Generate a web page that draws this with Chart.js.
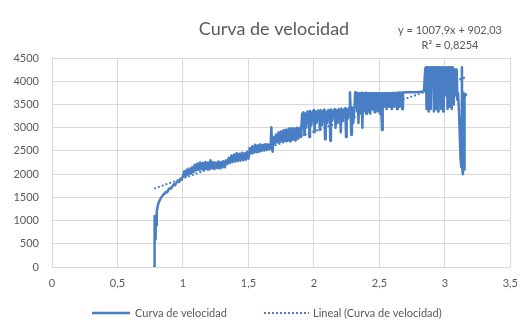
<!DOCTYPE html>
<html lang="es">
<head>
    <meta charset="UTF-8">
    <title>Curva de velocidad</title>
    <style>
        html, body { margin: 0; padding: 0; background: #ffffff; }
        #wrap { width: 528px; height: 323px; position: relative; }
    </style>
</head>
<body>
    <div id="wrap"><canvas id="velChart"></canvas></div>

    <script src="https://cdn.jsdelivr.net/npm/chart.js@4.4.3/dist/chart.umd.min.js"></script>
    <script>
        // Datos (x = tiempo, y = velocidad)
        const tiempo = [
            // arranque
            0.78, 0.782, 0.785, 0.788, 0.79, 0.793, 0.797, 0.80, 0.81, 0.82,
            0.83, 0.84, 0.85, 0.86, 0.87, 0.88, 0.89, 0.90, 0.91, 0.92,
            0.93, 0.94, 0.95, 0.96, 0.97, 0.98, 0.99,
            // 1.00 - 1.33
            1.00, 1.01, 1.02, 1.03, 1.04, 1.05, 1.06, 1.07, 1.08, 1.09,
            1.10, 1.11, 1.12, 1.13, 1.14, 1.15, 1.16, 1.17, 1.18, 1.19,
            1.20, 1.21, 1.22, 1.23, 1.24, 1.25, 1.26, 1.27, 1.28, 1.29,
            1.30, 1.31, 1.32, 1.33,
            // 1.34 - 1.50
            1.34, 1.35, 1.36, 1.37, 1.38, 1.39, 1.40, 1.41, 1.42, 1.43,
            1.44, 1.45, 1.46, 1.47, 1.48, 1.49, 1.50,
            // 1.51 - 1.685
            1.51, 1.52, 1.53, 1.54, 1.55, 1.56, 1.57, 1.58, 1.59, 1.60,
            1.61, 1.62, 1.63, 1.64, 1.65, 1.66, 1.67, 1.675, 1.68, 1.685,
            // 1.69 - 1.90
            1.69, 1.70, 1.71, 1.72, 1.73, 1.74, 1.75, 1.76, 1.77, 1.78,
            1.79, 1.80, 1.81, 1.82, 1.83, 1.84, 1.85, 1.86, 1.87, 1.88,
            1.89, 1.90,
            // 1.91 - 2.32
            1.91, 1.92, 1.925, 1.93, 1.94, 1.95, 1.96, 1.965, 1.97, 1.98,
            1.99, 2.00, 2.005, 2.01, 2.02, 2.03, 2.04, 2.045, 2.05, 2.06,
            2.07, 2.08, 2.085, 2.09, 2.10, 2.11, 2.12, 2.125, 2.13, 2.14,
            2.15, 2.16, 2.165, 2.17, 2.18, 2.19, 2.20, 2.205, 2.21, 2.22,
            2.23, 2.24, 2.245, 2.25, 2.26, 2.27, 2.275, 2.28, 2.285, 2.29,
            2.30, 2.31, 2.315, 2.32,
            // 2.325 - 2.84
            2.325, 2.33, 2.335, 2.34, 2.345, 2.35, 2.355, 2.36, 2.365, 2.37,
            2.375, 2.38, 2.385, 2.39, 2.395, 2.40, 2.405, 2.41, 2.415, 2.42,
            2.425, 2.43, 2.44, 2.445, 2.45, 2.46, 2.465, 2.47, 2.48, 2.485,
            2.49, 2.50, 2.505, 2.51, 2.52, 2.525, 2.53, 2.535, 2.54, 2.55,
            2.555, 2.56, 2.57, 2.575, 2.58, 2.59, 2.595, 2.60, 2.61, 2.615,
            2.62, 2.63, 2.635, 2.64, 2.65, 2.655, 2.66, 2.67, 2.675, 2.68,
            2.70, 2.75, 2.80, 2.84,
            // 2.85 - final
            2.85, 2.853, 2.856, 2.86, 2.864, 2.868, 2.872, 2.876, 2.88, 2.884,
            2.888, 2.892, 2.896, 2.90, 2.904, 2.908, 2.912, 2.916, 2.92, 2.924,
            2.928, 2.932, 2.936, 2.94, 2.944, 2.948, 2.952, 2.956, 2.96, 2.964,
            2.968, 2.972, 2.976, 2.98, 2.984, 2.988, 2.992, 2.996, 3.00, 3.004,
            3.008, 3.012, 3.016, 3.02, 3.024, 3.028, 3.032, 3.036, 3.04, 3.044,
            3.048, 3.052, 3.056, 3.06, 3.064, 3.068, 3.072, 3.076, 3.08, 3.085,
            3.09, 3.095, 3.10, 3.105, 3.11, 3.115, 3.12, 3.125, 3.13, 3.134,
            3.138, 3.142, 3.146, 3.15, 3.155, 3.16
        ];
        const velocidad = [
            // arranque
            0, 1100, 500, 1050, 600, 1100, 900, 1200, 1350, 1420,
            1480, 1520, 1560, 1580, 1620, 1610, 1670, 1700, 1690, 1740,
            1780, 1760, 1820, 1850, 1830, 1900, 1880,
            // 1.00 - 1.33
            1960, 2060, 1950, 2100, 1990, 2120, 2010, 2150, 2040, 2200,
            2080, 2230, 2090, 2250, 2100, 2240, 2090, 2260, 2110, 2250,
            2100, 2300, 2120, 2260, 2110, 2250, 2130, 2270, 2120, 2260,
            2140, 2280, 2150, 2300,
            // 1.34 - 1.50
            2220, 2350, 2240, 2400, 2260, 2420, 2270, 2450, 2280, 2440,
            2290, 2460, 2300, 2450, 2310, 2480, 2330,
            // 1.51 - 1.685
            2560, 2450, 2600, 2460, 2630, 2470, 2620, 2480, 2640, 2500,
            2630, 2510, 2650, 2520, 2640, 2530, 2660, 3010, 2550, 2480,
            // 1.69 - 1.90
            2800, 2650, 2850, 2680, 2900, 2690, 2920, 2700, 2950, 2710,
            2960, 2720, 2980, 2700, 2990, 2740, 2980, 2720, 3000, 2760,
            2990, 2800,
            // 1.91 - 2.32
            3300, 3330, 2850, 3310, 3000, 3350, 3320, 2800, 3360, 3050,
            3340, 3380, 2900, 3350, 3100, 3370, 3340, 2950, 3380, 3050,
            3360, 3390, 2750, 3350, 3100, 3380, 3360, 2720, 3390, 3150,
            3370, 3400, 3000, 3380, 3100, 3400, 3370, 2900, 3410, 3150,
            3390, 3420, 2800, 3400, 3200, 3430, 3760, 3410, 2850, 3440,
            3100, 3450, 3760, 3440,
            // 2.325 - 2.84
            3750, 3350, 3740, 3100, 3740, 3400, 3740, 3300, 3750, 3000,
            3740, 3400, 3740, 3350, 3750, 3300, 3740, 3450, 3740, 3350,
            3740, 3300, 3740, 3400, 3740, 3740, 3330, 3740, 3740, 3350,
            3740, 3740, 3300, 3740, 2950, 3740, 3740, 3450, 3740, 3740,
            3400, 3740, 3740, 3450, 3740, 3740, 3400, 3745, 3745, 3450,
            3745, 3745, 3400, 3750, 3750, 3450, 3750, 3750, 3400, 3755,
            3760, 3765, 3770, 3780,
            // 2.85 - final
            4280, 3950, 4300, 3400, 4300, 3950, 4280, 3350, 4300, 3950,
            4280, 3400, 4300, 4000, 4280, 3900, 4300, 3350, 4280, 3950,
            4300, 3400, 4280, 3950, 4300, 3350, 4280, 4000, 4300, 3900,
            4280, 3400, 4300, 3950, 4280, 3350, 4300, 3950, 4280, 3700,
            4300, 3950, 4280, 3400, 4300, 3950, 4280, 3450, 4300, 3950,
            4280, 3400, 4300, 3950, 4250, 3500, 4250, 3900, 4200, 3700,
            4250, 3600, 3750, 3500, 3200, 2700, 2300, 2150, 4300, 2050,
            2000, 3750, 2100, 3700, 3720, 3700
        ];
        // Linea de tendencia lineal (extremos) y su rotulo
        const tendenciaX = [0.78, 3.16];
        const tendenciaY = [1688, 4087];
        const ecuacion = 'y = 1007,9x + 902,03';
        const r2 = 'R\u00b2 = 0,8254';

        const azul = '#4a7ec4';
        const gris = '#595959';
        const fuente = 'Lato, "Open Sans", sans-serif';

        const puntos = tiempo.map((t, i) => ({ x: t, y: velocidad[i] }));
        const puntosTend = tendenciaX.map((t, i) => ({ x: t, y: tendenciaY[i] }));

        // Titulo, ecuacion y leyenda dibujados a mano
        const textos = {
            id: 'textos',
            afterDraw(chart) {
                const ctx = chart.ctx;
                ctx.save();
                ctx.fillStyle = gris;
                ctx.textAlign = 'center';
                ctx.textBaseline = 'middle';
                ctx.font = '18px ' + fuente;
                ctx.fillText('Curva de velocidad', 274, 29);
                ctx.font = '11px ' + fuente;
                ctx.fillText(ecuacion, 450, 30);
                ctx.fillText(r2, 450, 45);

                // leyenda
                const ly = 313;
                ctx.strokeStyle = azul;
                ctx.lineWidth = 2.5;
                ctx.beginPath();
                ctx.moveTo(92, ly);
                ctx.lineTo(130, ly);
                ctx.stroke();
                ctx.lineWidth = 2;
                ctx.setLineDash([2, 2]);
                ctx.beginPath();
                ctx.moveTo(264, ly);
                ctx.lineTo(309, ly);
                ctx.stroke();
                ctx.setLineDash([]);
                ctx.textAlign = 'left';
                ctx.fillText('Curva de velocidad', 135, ly);
                ctx.fillText('Lineal (Curva de velocidad)', 313, ly);
                ctx.restore();
            }
        };

        new Chart(document.getElementById('velChart'), {
            type: 'scatter',
            data: {
                datasets: [{
                    label: 'Curva de velocidad',
                    data: puntos,
                    showLine: true,
                    borderColor: azul,
                    borderWidth: 2.5,
                    borderJoinStyle: 'round',
                    borderCapStyle: 'round',
                    pointRadius: 0,
                    tension: 0
                }, {
                    label: 'Lineal (Curva de velocidad)',
                    data: puntosTend,
                    showLine: true,
                    borderColor: azul,
                    borderWidth: 2,
                    borderDash: [2, 2],
                    pointRadius: 0
                }]
            },
            options: {
                responsive: true,
                maintainAspectRatio: false,
                animation: false,
                layout: { padding: { top: 58, right: 7, bottom: 26, left: 0 } },
                plugins: {
                    legend: { display: false },
                    title: { display: false },
                    tooltip: { enabled: false }
                },
                scales: {
                    x: {
                        type: 'linear',
                        min: 0,
                        max: 3.5,
                        afterFit: (s) => { s.height = 30; },
                        ticks: {
                            stepSize: 0.5,
                            padding: 10,
                            color: gris,
                            font: { family: fuente, size: 11 },
                            maxRotation: 0,
                            callback: (v) => String(v).replace('.', ',')
                        },
                        grid: { color: '#d9d9d9', drawTicks: false },
                        border: { display: false }
                    },
                    y: {
                        min: 0,
                        max: 4500,
                        afterFit: (s) => { s.width = 52; },
                        ticks: {
                            stepSize: 500,
                            padding: 13,
                            color: gris,
                            font: { family: fuente, size: 11 },
                            callback: (v) => String(v)
                        },
                        grid: { color: '#d9d9d9', drawTicks: false },
                        border: { display: false }
                    }
                }
            },
            plugins: [textos]
        });
    </script>
</body>
</html>
